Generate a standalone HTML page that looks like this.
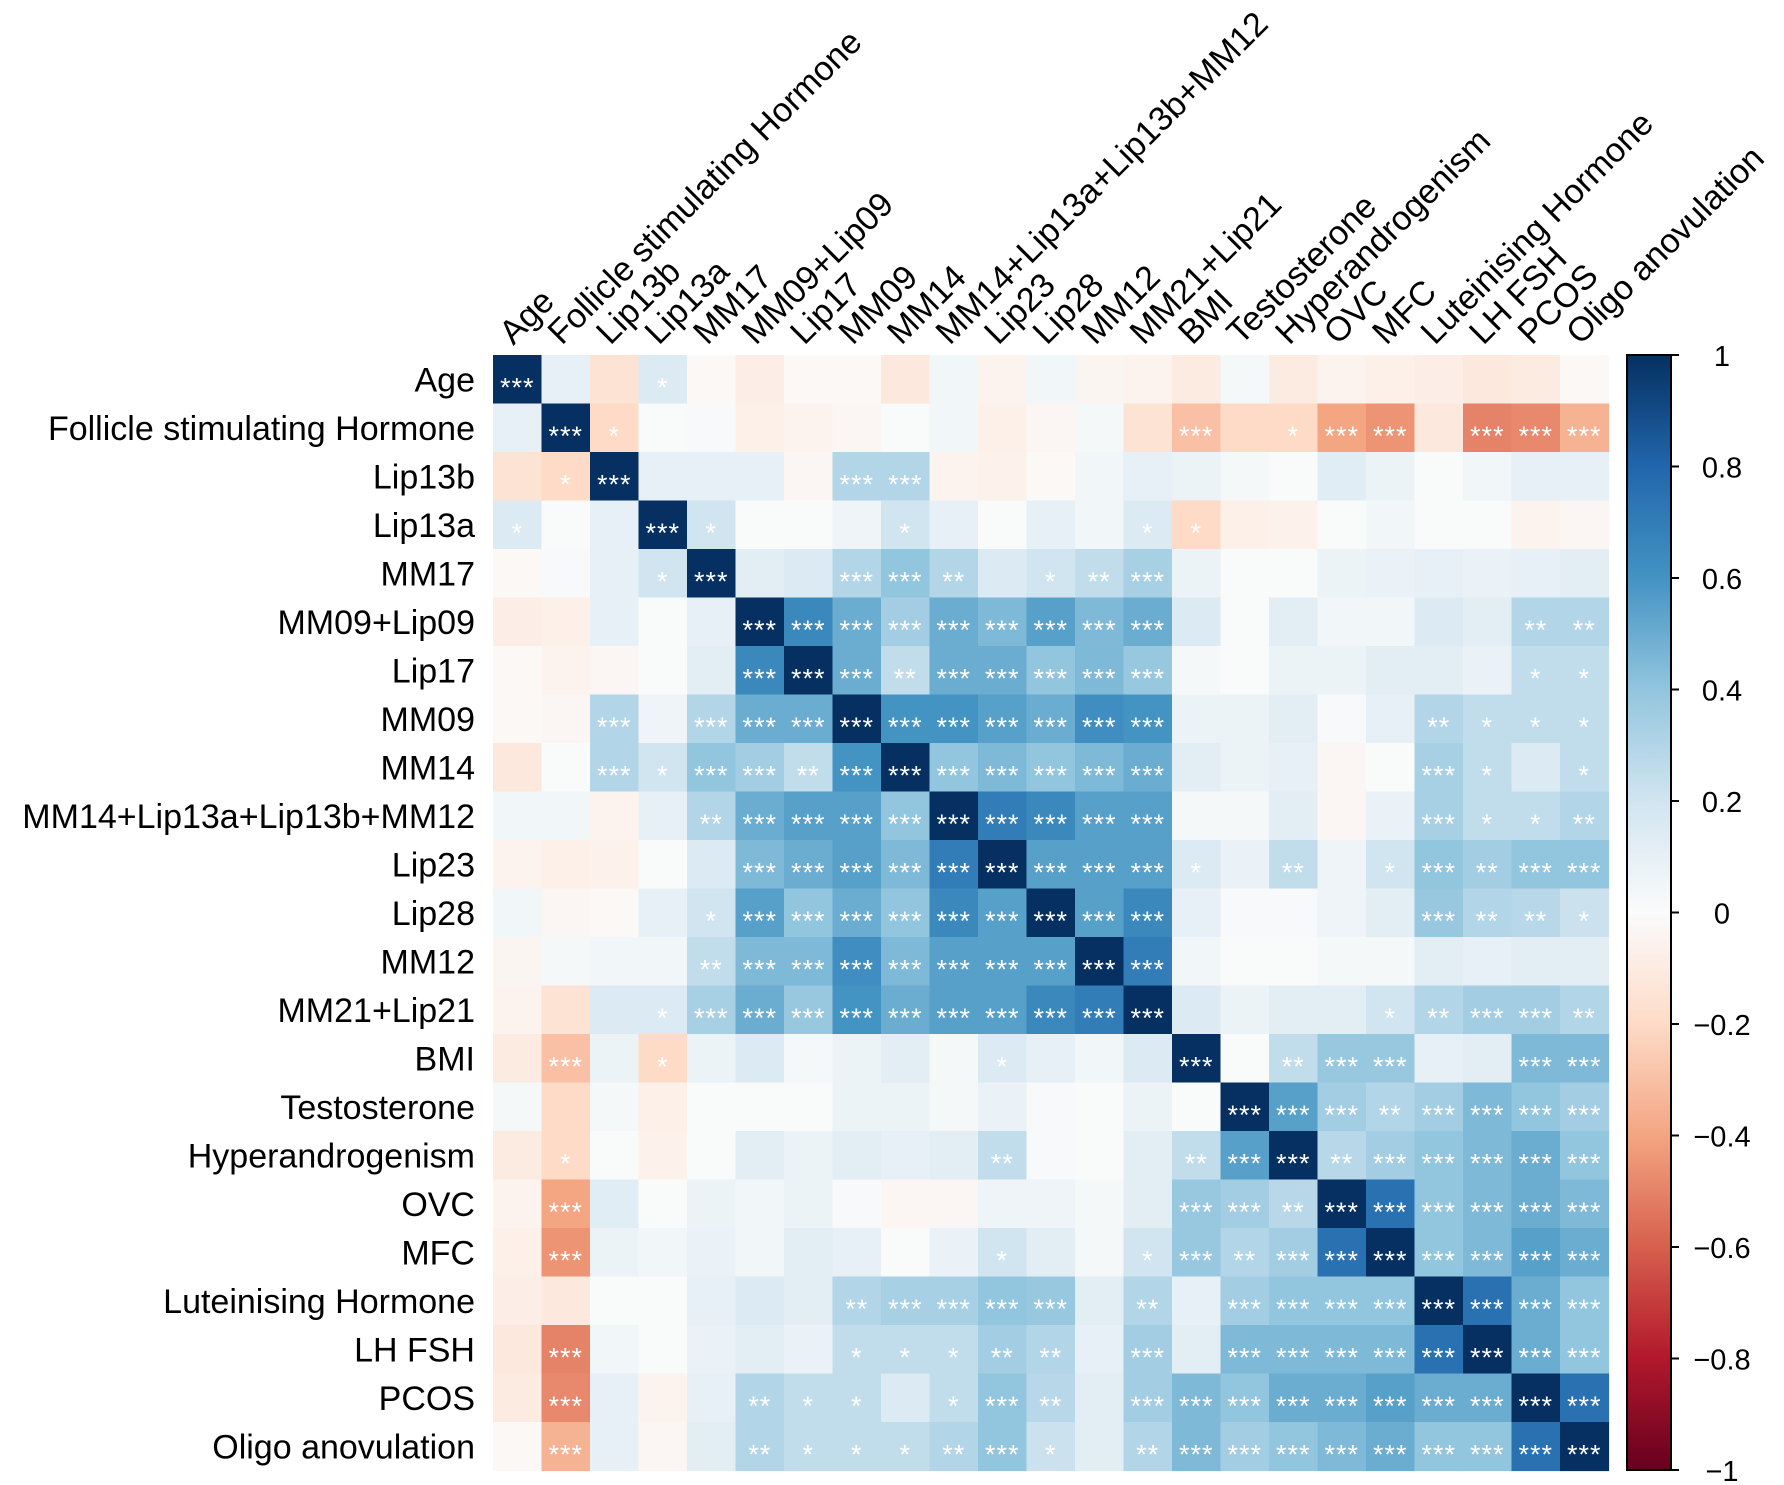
<!DOCTYPE html>
<html><head><meta charset="utf-8"><style>
html,body{margin:0;padding:0;background:#fff;}
svg{display:block;font-family:"Liberation Sans",Arial,sans-serif;}
</style></head><body>
<svg id="chart" width="1784" height="1485" viewBox="0 0 1784 1485" xmlns="http://www.w3.org/2000/svg">
<defs>
<linearGradient id="cbgrad" x1="0" y1="1" x2="0" y2="0"></linearGradient>
</defs>
<g id="cells"></g>
<g id="stars"></g>
<g id="rowlabels"></g>
<g id="collabels"></g>
<g id="colorbar"></g>
</svg>
<script>
const categories = ["Age","Follicle stimulating Hormone","Lip13b","Lip13a","MM17","MM09+Lip09","Lip17","MM09","MM14","MM14+Lip13a+Lip13b+MM12","Lip23","Lip28","MM12","MM21+Lip21","BMI","Testosterone","Hyperandrogenism","OVC","MFC","Luteinising Hormone","LH FSH","PCOS","Oligo anovulation"];
const values = [
[1,.1,-.15,.15,-.02,-.08,-.02,-.02,-.12,.05,-.05,.05,-.04,-.05,-.1,.03,-.1,-.05,-.07,-.08,-.12,-.1,-.02],
[.1,1,-.2,.01,.02,-.07,-.05,-.03,.01,.05,-.07,-.03,.03,-.15,-.3,-.2,-.2,-.4,-.45,-.12,-.5,-.48,-.35],
[-.15,-.2,1,.1,.1,.1,-.03,.3,.3,-.05,-.06,-.02,.05,.1,.07,.03,.01,.13,.07,.01,.05,.1,.1],
[.15,.01,.1,1,.2,.01,.01,.06,.2,.1,.01,.1,.05,.15,-.2,-.07,-.06,.01,.05,.01,.01,-.05,-.03],
[-.02,.02,.1,.2,1,.12,.15,.3,.4,.3,.15,.2,.25,.33,.07,.01,.01,.07,.08,.1,.08,.1,.12],
[-.08,-.07,.1,.01,.1,1,.65,.5,.35,.5,.45,.55,.45,.5,.15,.01,.12,.05,.05,.15,.12,.3,.3],
[-.02,-.05,-.03,.01,.12,.65,1,.5,.25,.5,.5,.4,.45,.38,.03,.01,.07,.07,.12,.12,.08,.25,.25],
[-.02,-.03,.3,.06,.3,.5,.5,1,.6,.6,.55,.5,.62,.6,.07,.07,.12,.02,.1,.3,.25,.25,.25],
[-.12,.01,.3,.2,.4,.35,.25,.6,1,.4,.45,.4,.45,.5,.12,.07,.1,-.03,.01,.33,.25,.15,.25],
[.05,.05,-.05,.1,.3,.5,.55,.55,.4,1,.7,.65,.55,.55,.03,.03,.12,-.03,.08,.33,.25,.25,.3],
[-.05,-.07,-.06,.01,.15,.45,.5,.55,.45,.7,1,.55,.55,.55,.15,.08,.25,.06,.2,.4,.35,.4,.4],
[.05,-.03,-.02,.1,.2,.55,.4,.5,.4,.65,.55,1,.55,.65,.1,.02,.02,.06,.12,.38,.3,.28,.22],
[-.04,.03,.05,.05,.25,.45,.45,.62,.45,.55,.55,.55,1,.7,.05,.01,.01,.03,.03,.12,.1,.12,.12],
[-.05,-.15,.15,.15,.33,.5,.38,.6,.5,.55,.55,.65,.7,1,.15,.07,.12,.12,.2,.3,.35,.35,.3],
[-.1,-.3,.07,-.2,.07,.15,.03,.07,.12,.03,.15,.1,.05,.15,1,.01,.25,.38,.38,.1,.12,.45,.45],
[.03,-.2,.03,-.07,.01,.01,.01,.07,.07,.03,.08,.02,.01,.07,.01,1,.55,.35,.3,.35,.45,.4,.35],
[-.1,-.2,.01,-.06,.01,.12,.07,.12,.1,.12,.25,.02,.01,.12,.25,.55,1,.28,.35,.4,.45,.5,.4],
[-.05,-.4,.13,.01,.07,.05,.07,.02,-.03,-.03,.06,.06,.03,.12,.38,.35,.28,1,.75,.4,.45,.5,.45],
[-.07,-.45,.07,.05,.08,.05,.12,.1,.01,.08,.2,.12,.03,.2,.38,.3,.35,.75,1,.4,.45,.55,.5],
[-.08,-.12,.01,.01,.1,.15,.12,.3,.33,.33,.4,.38,.12,.3,.1,.35,.4,.4,.4,1,.75,.5,.4],
[-.12,-.5,.05,.01,.08,.12,.08,.25,.25,.25,.35,.3,.1,.35,.12,.45,.45,.45,.45,.75,1,.5,.4],
[-.1,-.48,.1,-.05,.1,.3,.25,.25,.15,.25,.4,.28,.12,.35,.45,.4,.5,.5,.55,.5,.5,1,.75],
[-.02,-.35,.1,-.03,.12,.3,.25,.25,.25,.3,.4,.22,.12,.3,.45,.35,.4,.45,.5,.4,.4,.75,1]
];
const stars = [
"3,0,0,1,0,0,0,0,0,0,0,0,0,0,0,0,0,0,0,0,0,0,0",
"0,3,1,0,0,0,0,0,0,0,0,0,0,0,3,0,1,3,3,0,3,3,3",
"0,1,3,0,0,0,0,3,3,0,0,0,0,0,0,0,0,0,0,0,0,0,0",
"1,0,0,3,1,0,0,0,1,0,0,0,0,1,1,0,0,0,0,0,0,0,0",
"0,0,0,1,3,0,0,3,3,2,0,1,2,3,0,0,0,0,0,0,0,0,0",
"0,0,0,0,0,3,3,3,3,3,3,3,3,3,0,0,0,0,0,0,0,2,2",
"0,0,0,0,0,3,3,3,2,3,3,3,3,3,0,0,0,0,0,0,0,1,1",
"0,0,3,0,3,3,3,3,3,3,3,3,3,3,0,0,0,0,0,2,1,1,1",
"0,0,3,1,3,3,2,3,3,3,3,3,3,3,0,0,0,0,0,3,1,0,1",
"0,0,0,0,2,3,3,3,3,3,3,3,3,3,0,0,0,0,0,3,1,1,2",
"0,0,0,0,0,3,3,3,3,3,3,3,3,3,1,0,2,0,1,3,2,3,3",
"0,0,0,0,1,3,3,3,3,3,3,3,3,3,0,0,0,0,0,3,2,2,1",
"0,0,0,0,2,3,3,3,3,3,3,3,3,3,0,0,0,0,0,0,0,0,0",
"0,0,0,1,3,3,3,3,3,3,3,3,3,3,0,0,0,0,1,2,3,3,2",
"0,3,0,1,0,0,0,0,0,0,1,0,0,0,3,0,2,3,3,0,0,3,3",
"0,0,0,0,0,0,0,0,0,0,0,0,0,0,0,3,3,3,2,3,3,3,3",
"0,1,0,0,0,0,0,0,0,0,2,0,0,0,2,3,3,2,3,3,3,3,3",
"0,3,0,0,0,0,0,0,0,0,0,0,0,0,3,3,2,3,3,3,3,3,3",
"0,3,0,0,0,0,0,0,0,0,1,0,0,1,3,2,3,3,3,3,3,3,3",
"0,0,0,0,0,0,0,2,3,3,3,3,0,2,0,3,3,3,3,3,3,3,3",
"0,3,0,0,0,0,0,1,1,1,2,2,0,3,0,3,3,3,3,3,3,3,3",
"0,3,0,0,0,2,1,1,0,1,3,2,0,3,3,3,3,3,3,3,3,3,3",
"0,3,0,0,0,2,1,1,1,2,3,1,0,2,3,3,3,3,3,3,3,3,3"
];
const cbTicks = [1,0.8,0.6,0.4,0.2,0,-0.2,-0.4,-0.6,-0.8,-1];

const NS = "http://www.w3.org/2000/svg";
const X0 = 493, Y0 = 355, CELL = 48.5;
const CBX = 1627, CBW = 44, CBTOP = 355, CBBOT = 1470;
const xPos = i => X0 + i*CELL;
const yPos = i => Y0 + i*CELL;
const cbY = v => CBTOP + (1 - v)/2*(CBBOT - CBTOP);
const stops = ["#67001f","#b2182b","#d6604d","#f4a582","#fddbc7","#fbfbfb","#d1e5f0","#92c5de","#4393c3","#2166ac","#053061"];
function hex(h){return [1,3,5].map(k=>parseInt(h.substr(k,2),16));}
function color(v){
  v = Math.max(-1, Math.min(1, v));
  const t = (v + 1)/2*(stops.length - 1);
  const i = Math.min(stops.length - 2, Math.floor(t)), f = t - i;
  const a = hex(stops[i]), b = hex(stops[i+1]);
  const c = a.map((x,k)=>Math.round(x + (b[k]-x)*f));
  return "rgb(" + c.join(",") + ")";
}
function mk(tag, attrs, parent){
  const e = document.createElementNS(NS, tag);
  for (const k in attrs) e.setAttribute(k, attrs[k]);
  parent.appendChild(e);
  return e;
}
const gC = document.getElementById("cells"), gS = document.getElementById("stars");
const gR = document.getElementById("rowlabels"), gL = document.getElementById("collabels");
const gB = document.getElementById("colorbar");
const n = categories.length;
for (let r = 0; r < n; r++){
  const srow = stars[r].split(",").map(Number);
  for (let c = 0; c < n; c++){
    const rect = mk("rect", {x: xPos(c), y: yPos(r), width: CELL + 0.6, height: CELL + 0.6, fill: color(values[r][c])}, gC);
    
    
    if (srow[c] > 0){
      const t = mk("text", {x: xPos(c) + CELL/2, y: yPos(r) + CELL/2 + 17, "text-anchor": "middle", "font-size": 27, fill: "#fff", "letter-spacing": "1"}, gS);
      t.textContent = "*".repeat(srow[c]);
      
      
    }
  }
  const rl = mk("text", {x: 475, y: yPos(r) + CELL/2 + 12, "text-anchor": "end", "font-size": 34, fill: "#000"}, gR);
  rl.textContent = categories[r];
  
  
  const cx = xPos(r) + CELL/2 - 4, cy = 346;
  const cl = mk("text", {x: cx, y: cy, "font-size": 34, fill: "#000", transform: "rotate(-45 " + cx + " " + cy + ")"}, gL);
  cl.textContent = categories[r];
  
  
}
// colorbar gradient
const grad = document.getElementById("cbgrad");
stops.forEach((s,i)=>{ mk("stop", {offset: (i/(stops.length-1)*100) + "%", "stop-color": s}, grad); });
const bar = mk("rect", {x: CBX, y: CBTOP, width: CBW, height: CBBOT - CBTOP, fill: "url(#cbgrad)", stroke: "#000", "stroke-width": 2}, gB);


cbTicks.forEach(v=>{
  const y = cbY(v);
  const tk = mk("line", {x1: CBX + CBW, x2: CBX + CBW + 8, y1: y, y2: y, stroke: "#000", "stroke-width": 2}, gB);
  
  
  const lb = mk("text", {x: 1722, y: y + 11, "text-anchor": "middle", "font-size": 29, fill: "#000"}, gB);
  lb.textContent = (v < 0 ? "\u2212" : "") + String(Math.abs(v));
  
  
});
</script>
</body></html>
